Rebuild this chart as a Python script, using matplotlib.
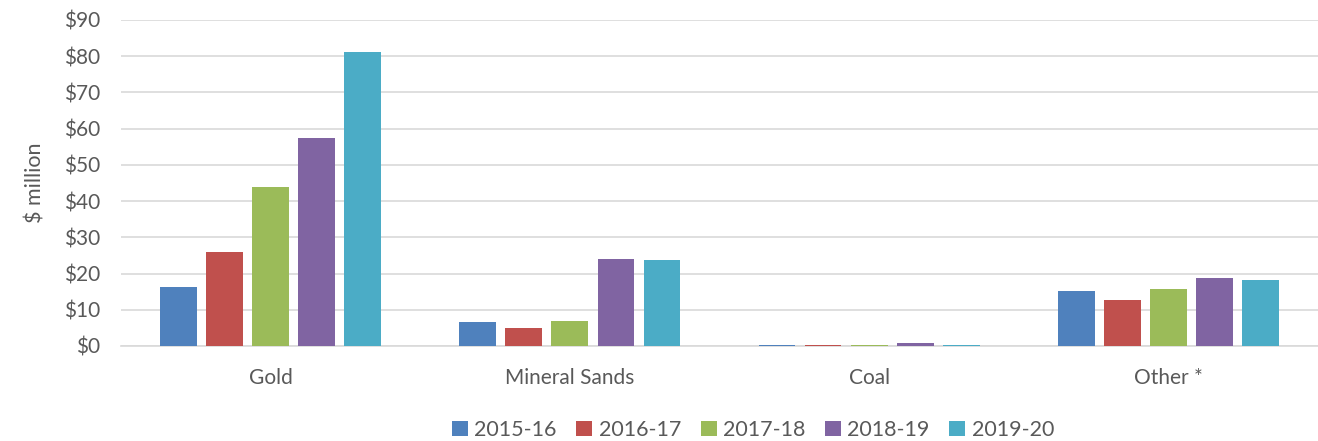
import matplotlib
matplotlib.use("Agg")
import matplotlib.pyplot as plt
import numpy as np

categories = ["Gold", "Mineral Sands", "Coal", "Other *"]
years = ["2015-16", "2016-17", "2017-18", "2018-19", "2019-20"]
v2015 = [16.3, 6.5, 0.2, 15.2]
v2016 = [26.0, 5.1, 0.3, 12.6]
v2017 = [43.8, 6.9, 0.3, 15.8]
v2018 = [57.3, 24.1, 0.9, 18.7]
v2019 = [81.2, 23.8, 0.2, 18.3]
series = [v2015, v2016, v2017, v2018, v2019]
colors = ["#4F81BD", "#C0504D", "#9BBB59", "#8064A2", "#4BACC6"]
yticks = [0, 10, 20, 30, 40, 50, 60, 70, 80, 90]
ylabels = ["$" + str(t) for t in yticks]

plt.rcParams['font.family'] = ['Lato', 'DejaVu Sans']
W, H = 1318, 441
fig = plt.figure(figsize=(W / 100, H / 100), dpi=100)
left, right, top, bottom = 121, 1318, 20, 346
ax = fig.add_axes([left / W, 1 - bottom / H, (right - left) / W, (bottom - top) / H])

x = np.arange(len(categories))
step = 0.154
width = 0.123
for i, (vals, c, lab) in enumerate(zip(series, colors, years)):
    ax.bar(x + (i - 2) * step, vals, width, color=c, label=lab, zorder=3)

ax.set_xlim(-0.5, len(categories) - 0.5)
ax.set_ylim(0, 90)
ax.set_yticks(yticks)
ax.set_yticklabels(ylabels)
ax.set_xticks(x)
ax.set_xticklabels(categories)
ax.grid(axis='y', color='#D9D9D9', linewidth=1.2, zorder=0)
for s in ['top', 'right', 'left']:
    ax.spines[s].set_visible(False)
ax.spines['bottom'].set_color('#D9D9D9')
ax.spines['bottom'].set_linewidth(1.2)
ax.tick_params(axis='both', length=0, labelsize=15, colors='#595959')
ax.tick_params(axis='y', pad=15)
ax.tick_params(axis='x', pad=16)
ax.set_ylabel("$ million", fontsize=15.5, color='#595959')
ax.yaxis.set_label_coords((45 - left) / (right - left), 0.5)

leg = fig.legend(*ax.get_legend_handles_labels(), loc='center',
                 bbox_to_anchor=(753 / W, 1 - 430 / H), ncol=5, frameon=False,
                 fontsize=15.5, handlelength=0.75, handleheight=0.75, handletextpad=0.3,
                 columnspacing=0.9, labelcolor='#595959')

fig.savefig("out.png", dpi=100)
